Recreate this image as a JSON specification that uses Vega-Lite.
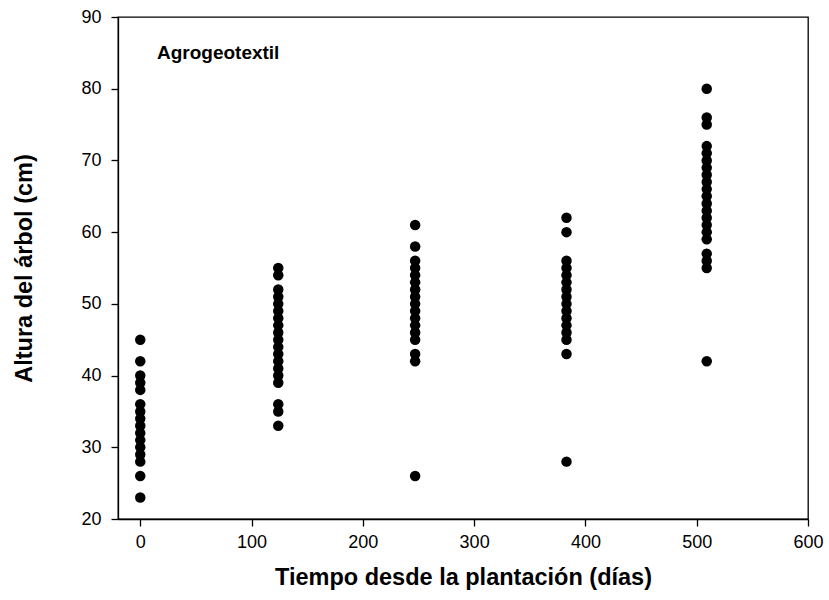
{
  "$schema": "https://vega.github.io/schema/vega-lite/v6.json",
  "autosize": "none",
  "width": 690,
  "height": 502,
  "padding": {"left": 118, "top": 17, "right": 21, "bottom": 81},
  "background": "white",
  "config": {
    "view": {"stroke": "#000", "strokeWidth": 1.3},
    "font": "Liberation Sans",
    "axis": {
      "grid": false,
      "domainColor": "#000",
      "domainWidth": 1.3,
      "tickColor": "#000",
      "tickWidth": 1.3,
      "tickSize": 7,
      "labelFont": "Liberation Sans",
      "labelFontSize": 18,
      "labelColor": "#000",
      "titleFont": "Liberation Sans",
      "titleFontSize": 23.5,
      "titleFontWeight": "bold",
      "titleColor": "#000"
    }
  },
  "datasets": {
    "pts": [
      {"dias": 0, "altura": 45}, {"dias": 0, "altura": 42}, {"dias": 0, "altura": 40}, {"dias": 0, "altura": 39},
      {"dias": 0, "altura": 38}, {"dias": 0, "altura": 36}, {"dias": 0, "altura": 35}, {"dias": 0, "altura": 34},
      {"dias": 0, "altura": 33}, {"dias": 0, "altura": 32}, {"dias": 0, "altura": 31}, {"dias": 0, "altura": 30},
      {"dias": 0, "altura": 29}, {"dias": 0, "altura": 28}, {"dias": 0, "altura": 26}, {"dias": 0, "altura": 23},
      {"dias": 124, "altura": 55}, {"dias": 124, "altura": 54}, {"dias": 124, "altura": 52}, {"dias": 124, "altura": 51},
      {"dias": 124, "altura": 50}, {"dias": 124, "altura": 49}, {"dias": 124, "altura": 48}, {"dias": 124, "altura": 47},
      {"dias": 124, "altura": 46}, {"dias": 124, "altura": 45}, {"dias": 124, "altura": 44}, {"dias": 124, "altura": 43},
      {"dias": 124, "altura": 42}, {"dias": 124, "altura": 41}, {"dias": 124, "altura": 40}, {"dias": 124, "altura": 39},
      {"dias": 124, "altura": 36}, {"dias": 124, "altura": 35}, {"dias": 124, "altura": 33},
      {"dias": 247, "altura": 61}, {"dias": 247, "altura": 58}, {"dias": 247, "altura": 56}, {"dias": 247, "altura": 55},
      {"dias": 247, "altura": 54}, {"dias": 247, "altura": 53}, {"dias": 247, "altura": 52}, {"dias": 247, "altura": 51},
      {"dias": 247, "altura": 50}, {"dias": 247, "altura": 49}, {"dias": 247, "altura": 48}, {"dias": 247, "altura": 47},
      {"dias": 247, "altura": 46}, {"dias": 247, "altura": 45}, {"dias": 247, "altura": 43}, {"dias": 247, "altura": 42},
      {"dias": 247, "altura": 26},
      {"dias": 383, "altura": 62}, {"dias": 383, "altura": 60}, {"dias": 383, "altura": 56}, {"dias": 383, "altura": 55},
      {"dias": 383, "altura": 54}, {"dias": 383, "altura": 53}, {"dias": 383, "altura": 52}, {"dias": 383, "altura": 51},
      {"dias": 383, "altura": 50}, {"dias": 383, "altura": 49}, {"dias": 383, "altura": 48}, {"dias": 383, "altura": 47},
      {"dias": 383, "altura": 46}, {"dias": 383, "altura": 45}, {"dias": 383, "altura": 43}, {"dias": 383, "altura": 28},
      {"dias": 509, "altura": 80}, {"dias": 509, "altura": 76}, {"dias": 509, "altura": 75}, {"dias": 509, "altura": 72},
      {"dias": 509, "altura": 71}, {"dias": 509, "altura": 70}, {"dias": 509, "altura": 69}, {"dias": 509, "altura": 68},
      {"dias": 509, "altura": 67}, {"dias": 509, "altura": 66}, {"dias": 509, "altura": 65}, {"dias": 509, "altura": 64},
      {"dias": 509, "altura": 63}, {"dias": 509, "altura": 62}, {"dias": 509, "altura": 61}, {"dias": 509, "altura": 60},
      {"dias": 509, "altura": 59}, {"dias": 509, "altura": 57}, {"dias": 509, "altura": 56}, {"dias": 509, "altura": 55},
      {"dias": 509, "altura": 42}
    ],
    "lbl": [{"dias": 15, "altura": 85, "texto": "Agrogeotextil"}]
  },
  "layer": [
    {
      "data": {"name": "pts"},
      "mark": {"type": "point", "filled": true, "shape": "circle", "size": 110, "color": "#000", "opacity": 1},
      "encoding": {
        "x": {
          "field": "dias", "type": "quantitative",
          "scale": {"domain": [-20, 600], "nice": false, "zero": false},
          "axis": {"values": [0, 100, 200, 300, 400, 500, 600], "title": "Tiempo desde la plantación (días)", "labelPadding": 7, "titlePadding": 14, "labelFlush": false}
        },
        "y": {
          "field": "altura", "type": "quantitative",
          "scale": {"domain": [20, 90], "nice": false, "zero": false},
          "axis": {"values": [20, 30, 40, 50, 60, 70, 80, 90], "title": "Altura del árbol (cm)", "labelPadding": 10, "titlePadding": 44, "labelFlush": false}
        }
      }
    },
    {
      "data": {"name": "lbl"},
      "mark": {"type": "text", "align": "left", "baseline": "middle", "font": "Liberation Sans", "fontSize": 19, "fontWeight": "bold", "color": "#000"},
      "encoding": {
        "x": {"field": "dias", "type": "quantitative"},
        "y": {"field": "altura", "type": "quantitative"},
        "text": {"field": "texto"}
      }
    }
  ]
}
